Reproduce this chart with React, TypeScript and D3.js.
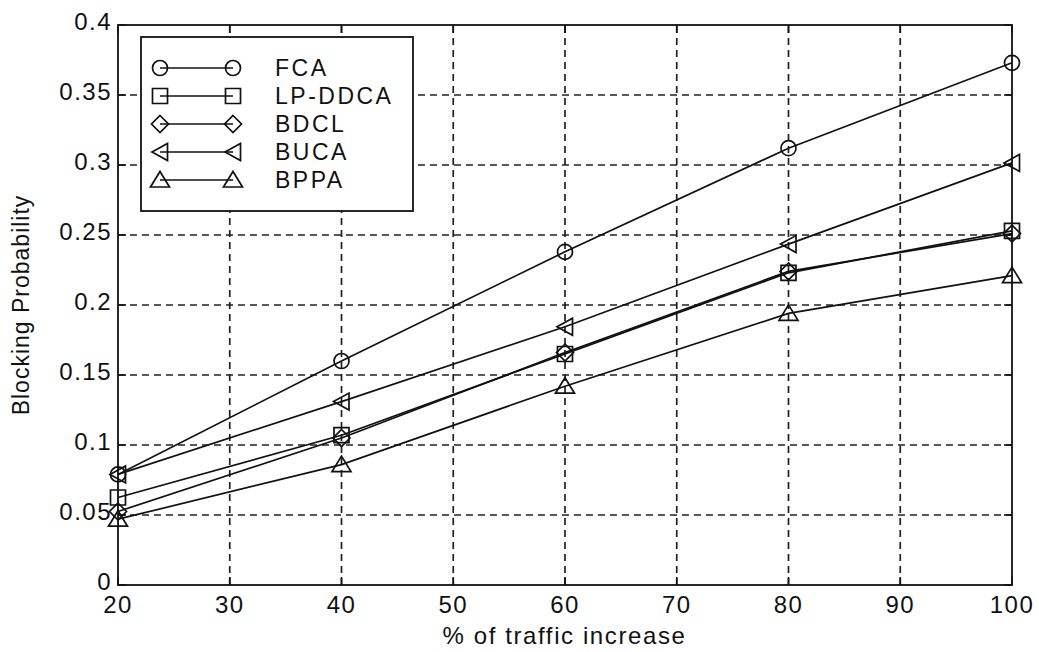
import React from "react";
import * as d3 from "d3";

const traffic = [20, 40, 60, 80, 100];
const fca = [0.079, 0.16, 0.238, 0.312, 0.373];
const lpddca = [0.0625, 0.107, 0.165, 0.223, 0.253];
const bdcl = [0.0525, 0.105, 0.166, 0.224, 0.251];
const buca = [0.079, 0.131, 0.1845, 0.2435, 0.3015];
const bppa = [0.047, 0.086, 0.142, 0.194, 0.221];

const seriesNames = ["FCA", "LP-DDCA", "BDCL", "BUCA", "BPPA"];
const seriesValues = [fca, lpddca, bdcl, buca, bppa];
const markerKinds = ["circle", "square", "diamond", "left", "up"];

const xTicks = [20, 30, 40, 50, 60, 70, 80, 90, 100];
const yTicks = [0, 0.05, 0.1, 0.15, 0.2, 0.25, 0.3, 0.35, 0.4];
const yTickLabels = ["0", "0.05", "0.1", "0.15", "0.2", "0.25", "0.3", "0.35", "0.4"];

const W = 1039;
const H = 652;
const L = 118;
const R = 1012;
const T = 25;
const B = 585;

const FONT = "'Liberation Sans', Arial, Helvetica, sans-serif";

function markerPath(kind: string, cx: number, cy: number): string {
  const p = d3.path();
  if (kind === "circle") {
    p.moveTo(cx + 7.5, cy);
    p.arc(cx, cy, 7.5, 0, Math.PI * 2);
  } else if (kind === "square") {
    p.rect(cx - 7.5, cy - 7.5, 15, 15);
  } else if (kind === "diamond") {
    p.moveTo(cx, cy - 8.5);
    p.lineTo(cx + 8.5, cy);
    p.lineTo(cx, cy + 8.5);
    p.lineTo(cx - 8.5, cy);
    p.closePath();
  } else if (kind === "left") {
    p.moveTo(cx - 8, cy);
    p.lineTo(cx + 7.5, cy - 8.5);
    p.lineTo(cx + 7.5, cy + 8.5);
    p.closePath();
  } else {
    p.moveTo(cx, cy - 8.5);
    p.lineTo(cx + 9.5, cy + 7);
    p.lineTo(cx - 9.5, cy + 7);
    p.closePath();
  }
  return p.toString();
}

export default function App() {
  const x = d3.scaleLinear().domain([20, 100]).range([L, R]);
  const y = d3.scaleLinear().domain([0, 0.4]).range([B, T]);
  const line = d3
    .line<number>()
    .x((_, i) => x(traffic[i]))
    .y((d) => y(d));

  const legX = 141;
  const legY = 37;
  const legW = 272;
  const legH = 174;
  const rowY = (i: number) => 68 + i * 28;

  return (
    <svg
      width={W}
      height={H}
      style={{ position: "absolute", left: 0, top: 0, background: "#fff" }}
      fontFamily={FONT}
    >
      <rect x={0} y={0} width={W} height={H} fill="#fff" />
      {/* grid */}
      <g stroke="#222" strokeWidth={1.7} strokeDasharray="7,5">
        {xTicks.slice(1, -1).map((t) => (
          <line key={"gx" + t} x1={x(t)} x2={x(t)} y1={B} y2={T} />
        ))}
        {yTicks.slice(1, -1).map((t) => (
          <line key={"gy" + t} x1={L} x2={R} y1={y(t)} y2={y(t)} />
        ))}
      </g>
      {/* axes box */}
      <rect x={L} y={T} width={R - L} height={B - T} fill="none" stroke="#111" strokeWidth={1.8} />
      {/* ticks */}
      <g stroke="#111" strokeWidth={1.6}>
        {xTicks.map((t) => (
          <g key={"tx" + t}>
            <line x1={x(t)} x2={x(t)} y1={B} y2={B - 8} />
            <line x1={x(t)} x2={x(t)} y1={T} y2={T + 8} />
          </g>
        ))}
        {yTicks.map((t) => (
          <g key={"ty" + t}>
            <line x1={L} x2={L + 8} y1={y(t)} y2={y(t)} />
            <line x1={R} x2={R - 8} y1={y(t)} y2={y(t)} />
          </g>
        ))}
      </g>
      {/* tick labels */}
      <g fontSize={24} fill="#111" letterSpacing={1.5}>
        {xTicks.map((t) => (
          <text key={"lx" + t} x={x(t)} y={613} textAnchor="middle">
            {t}
          </text>
        ))}
        {yTicks.map((t, i) => (
          <text key={"ly" + t} x={L - 6} y={y(t) + 5} textAnchor="end">
            {yTickLabels[i]}
          </text>
        ))}
      </g>
      {/* axis labels */}
      <text x={(437 + 692) / 2} y={644} textAnchor="middle" fontSize={24} letterSpacing={1.6} fill="#111">
        % of traffic increase
      </text>
      <text
        transform={`translate(29, ${(T + B) / 2}) rotate(-90)`}
        textAnchor="middle"
        fontSize={23}
        letterSpacing={1}
        fill="#111"
      >
        Blocking Probability
      </text>
      {/* data */}
      {seriesValues.map((vals, si) => (
        <g key={"s" + si}>
          <path d={line(vals) || ""} fill="none" stroke="#111" strokeWidth={1.7} />
          {vals.map((v, i) => (
            <path
              key={i}
              d={markerPath(markerKinds[si], x(traffic[i]), y(v))}
              fill="none"
              stroke="#111"
              strokeWidth={1.7}
            />
          ))}
        </g>
      ))}
      {/* legend */}
      <rect x={legX} y={legY} width={legW} height={legH} fill="#fff" stroke="#111" strokeWidth={1.8} />
      {seriesNames.map((name, i) => (
        <g key={"leg" + name}>
          <line x1={160} x2={233} y1={rowY(i)} y2={rowY(i)} stroke="#111" strokeWidth={1.7} />
          <path d={markerPath(markerKinds[i], 160, rowY(i))} fill="none" stroke="#111" strokeWidth={1.7} />
          <path d={markerPath(markerKinds[i], 233, rowY(i))} fill="none" stroke="#111" strokeWidth={1.7} />
          <text x={275} y={rowY(i) + 8} fontSize={23} letterSpacing={2.5} fill="#111">
            {name}
          </text>
        </g>
      ))}
    </svg>
  );
}
